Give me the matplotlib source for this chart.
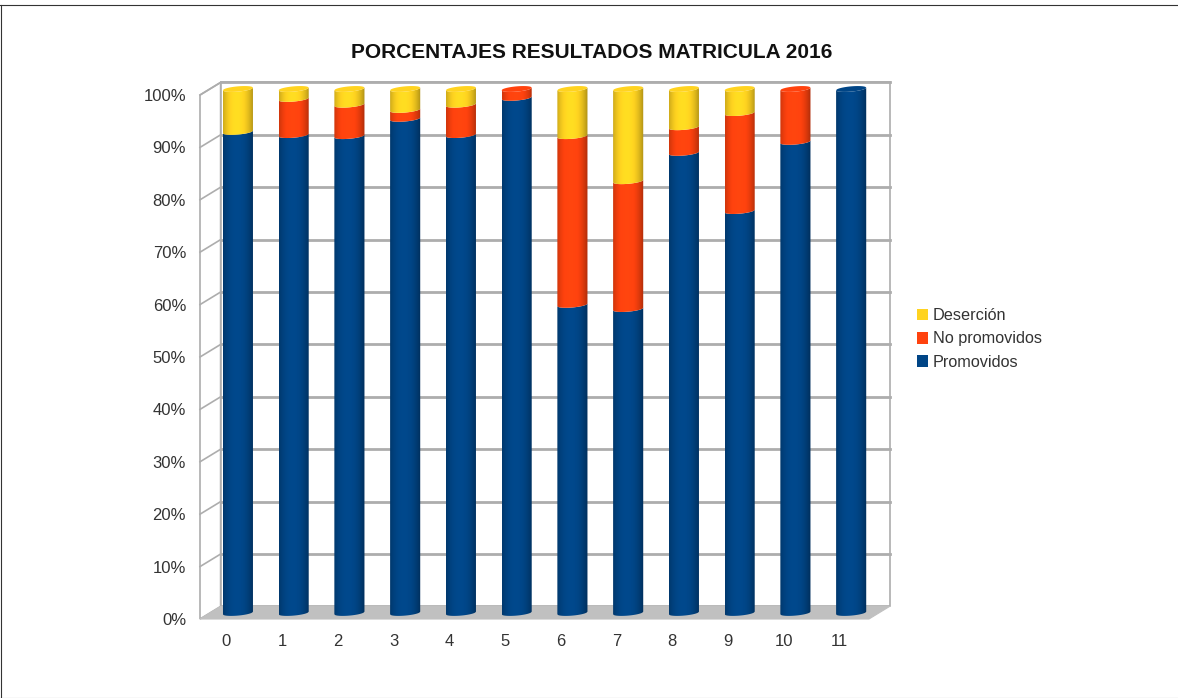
"""
Stacked cylinder chart of 2016 enrolment results by grade.
"""

import matplotlib
matplotlib.use("Agg")
import matplotlib.pyplot as plt
import numpy as np
from matplotlib.patches import PathPatch, Polygon, Rectangle
from matplotlib.path import Path
from matplotlib.transforms import ScaledTranslation

plt.rcParams["font.family"] = ["Liberation Sans", "DejaVu Sans"]

categories = ["0", "1", "2", "3", "4", "5", "6", "7", "8", "9", "10", "11"]
promovidos = [91.8, 91.2, 91.0, 94.3, 91.2, 98.3, 58.8, 58.0, 87.8, 76.7, 89.9, 100.0]
no_promovidos = [0.0, 6.9, 6.0, 1.7, 5.8, 1.7, 32.2, 24.4, 4.9, 18.7, 10.1, 0.0]
desercion = [8.2, 1.9, 3.0, 4.0, 3.0, 0.0, 9.0, 17.6, 7.3, 4.6, 0.0, 0.0]

series = [
    ("Promovidos", promovidos, "#004586"),
    ("No promovidos", no_promovidos, "#ff420e"),
    ("Deserción", desercion, "#ffd320"),
]
y_ticks = list(range(0, 101, 10))

TEXT = "#333333"
GRID = "#adadad"
FLOOR = "#c0c0c0"

# depth of the fake 3D box, in data units
DX, DY = 0.37, 2.4
BAR_DX, BAR_DY = 0.18, 1.15
HALF_W = 0.27
ARC, TILT = 0.5, 0.25

fig = plt.figure(figsize=(11.78, 6.98), dpi=100)
ax = fig.add_axes([200 / 1178, 79 / 698, 669 / 1178, 524 / 698])
ax.set_facecolor("none")
for spine in ax.spines.values():
    spine.set_visible(False)

xmin, xmax = -0.5, len(categories) - 0.5

# box walls and floor
ax.add_patch(Polygon([(xmin, 0), (xmin + DX, DY), (xmin + DX, 100 + DY), (xmin, 100)],
                     closed=True, fc="white", ec=GRID, lw=1.2, clip_on=False, zorder=1))
ax.add_patch(Rectangle((xmin + DX, DY), xmax - xmin, 100, fc="white", ec=GRID, lw=1.2,
                       clip_on=False, zorder=1))
ax.add_patch(Polygon([(xmin, 0), (xmax, 0), (xmax + DX, DY), (xmin + DX, DY)],
                     closed=True, fc=FLOOR, ec=FLOOR, lw=0.8, clip_on=False, zorder=2))
for tick in y_ticks[1:]:
    ax.plot([xmin, xmin + DX], [tick, tick + DY], color=GRID, lw=1.2, clip_on=False, zorder=2)
    ax.plot([xmin + DX, xmax + DX], [tick + DY, tick + DY], color=GRID, lw=2, clip_on=False,
            zorder=2)

# horizontal shading across a cylinder
u = np.linspace(-1, 1, 60)
shade = 1.05 - 0.3 * np.abs(u + 0.1) ** 2.2


def edge(center, value, lower=True):
    """Lower (or upper) half of the tilted ellipse at one height."""
    t = np.linspace(-1, 1, 40)
    sign = -1 if lower else 1
    return center + t * HALF_W, value + BAR_DY + sign * ARC * np.sqrt(1 - t ** 2) + TILT * t


def draw_segment(center, start, stop, color):
    rgb = np.array(matplotlib.colors.to_rgb(color))
    img = np.clip(shade[None, :, None] * rgb[None, None, :], 0, 1)
    x0, y0 = edge(center, start)
    x1, y1 = edge(center, stop)
    verts = np.vstack([np.column_stack([x0, y0]), np.column_stack([x1[::-1], y1[::-1]])])
    outline = PathPatch(Path(np.vstack([verts, verts[0]]), closed=True), transform=ax.transData,
                        fc="none", ec="none", clip_on=False)
    ax.add_patch(outline)
    im = ax.imshow(img, extent=[center - HALF_W, center + HALF_W, start - 2, stop + 4],
                   aspect="auto", interpolation="bilinear", zorder=3)
    im.set_clip_path(outline)
    # the bars stick out above the 100% line, so the axes box must not cut them
    im.set_clip_box(fig.bbox)


for i in range(len(categories)):
    center = i + BAR_DX
    base = 0.0
    top_color = None
    for name, values, color in series:
        if values[i] > 0:
            draw_segment(center, base, base + values[i], color)
            base += values[i]
            top_color = color
    x0, y0 = edge(center, base)
    x1, y1 = edge(center, base, lower=False)
    ax.add_patch(Polygon(np.vstack([np.column_stack([x0, y0]),
                                    np.column_stack([x1[::-1], y1[::-1]])]),
                         closed=True, fc=top_color, ec="none", zorder=4, clip_on=False))

ax.set_xlim(xmin, xmax)
ax.set_ylim(0, 100)
ax.set_xticks(range(len(categories)))
ax.set_xticklabels(categories)
ax.set_yticks(y_ticks)
ax.set_yticklabels([f"{tick}%" for tick in y_ticks])
ax.tick_params(axis="x", length=0, pad=11, labelsize=12, labelcolor=TEXT)
ax.tick_params(axis="y", length=0, pad=10, labelsize=12, labelcolor=TEXT)
shift = ScaledTranslation(-1.5 / 100, 0, fig.dpi_scale_trans)
for label in ax.get_xticklabels():
    label.set_transform(label.get_transform() + shift)

fig.text(592 / 1178, 1 - 52 / 698, "PORCENTAJES RESULTADOS MATRICULA 2016", ha="center",
         va="center", fontsize=15, fontweight="bold", color="#111111")

handles = [Rectangle((0, 0), 1, 1, fc=color, ec="none") for _, _, color in reversed(series)]
labels = [name for name, _, _ in reversed(series)]
fig.legend(handles, labels, loc="center left", bbox_to_anchor=(912 / 1178, 1 - 339 / 698),
           frameon=False, fontsize=11.7, labelcolor=TEXT, handlelength=0.68, handleheight=0.72,
           handletextpad=0.3, labelspacing=0.52, borderpad=0.3, borderaxespad=0)

# thin frame around the screenshot
fig.add_artist(plt.Line2D([0, 1], [1 - 4.5 / 698, 1 - 4.5 / 698], color="#333333", lw=0.8))
fig.add_artist(plt.Line2D([0, 1], [1 - 697.5 / 698, 1 - 697.5 / 698], color="#888888", lw=0.8))
fig.add_artist(plt.Line2D([1 / 1178, 1 / 1178], [0, 1 - 4.5 / 698], color="#333333", lw=0.8))

fig.savefig("out.png", dpi=100)
